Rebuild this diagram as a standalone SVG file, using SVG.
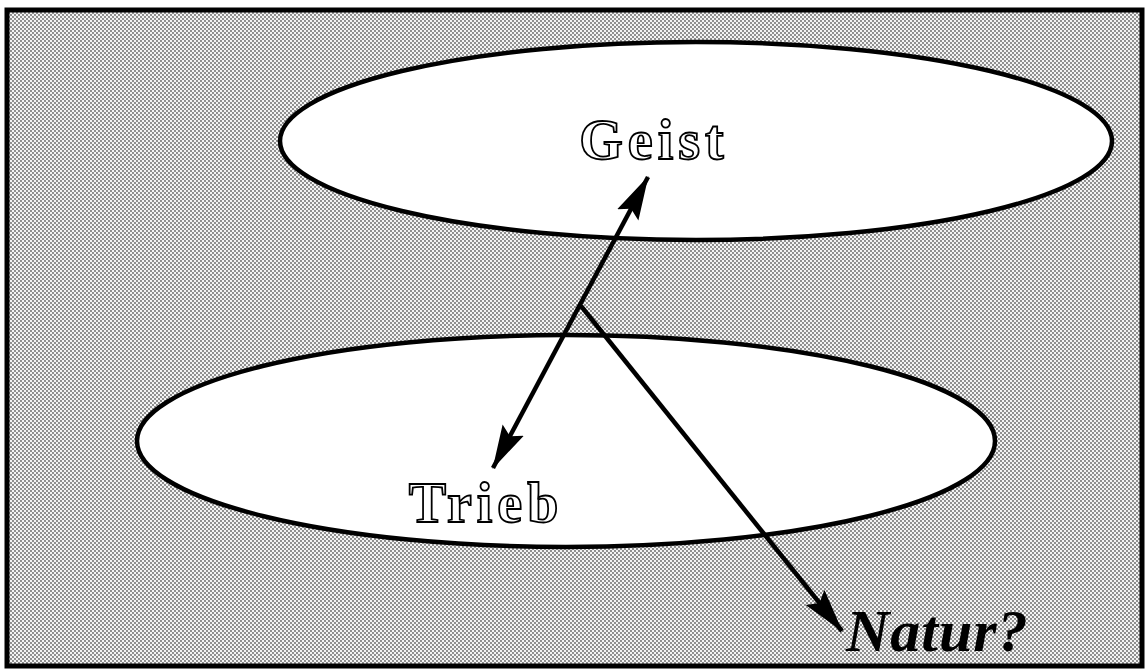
<svg xmlns="http://www.w3.org/2000/svg" width="1146" height="670" viewBox="0 0 1146 670">
<defs>
<pattern id="ht" width="4" height="4" patternUnits="userSpaceOnUse">
<rect width="4" height="4" fill="#f4f4f4"/>
<circle cx="1" cy="1" r="0.9" fill="#606060"/>
<circle cx="3" cy="3" r="0.9" fill="#606060"/>
</pattern>
<marker id="ah" viewBox="0 0 44 26" refX="43" refY="13" markerWidth="44" markerHeight="26" markerUnits="userSpaceOnUse" orient="auto-start-reverse">
<path d="M0,1 L44,13 L0,25 L7,13 Z" fill="#000"/>
</marker>
<style>
.ell{fill:#fff;stroke:#000;stroke-width:4.5}
.lbl{font-family:"Liberation Serif",serif;font-weight:bold;fill:#fff;stroke:#000;stroke-width:1.8}
.con{stroke:#000;stroke-width:4.5;fill:none}
</style>
</defs>
<rect x="0" y="0" width="1146" height="670" fill="#fff"/>
<rect x="7" y="10" width="1135" height="656" fill="url(#ht)" stroke="#000" stroke-width="5"/>
<g id="geist">
<ellipse class="ell" cx="696" cy="141" rx="416" ry="99"/>
<text class="lbl" x="654" y="159" font-size="56" letter-spacing="5" text-anchor="middle">Geist</text>
</g>
<g id="trieb">
<ellipse class="ell" cx="566" cy="441" rx="429" ry="106"/>
<text class="lbl" x="486" y="522" font-size="56" letter-spacing="5" text-anchor="middle">Trieb</text>
</g>
<g id="natur">
<text x="846" y="651" font-family="Liberation Serif,serif" font-style="italic" font-weight="bold" font-size="60" letter-spacing="1" fill="#000">Natur?</text>
</g>
<g id="connectors">
<line class="con" x1="493" y1="468" x2="648" y2="177" marker-start="url(#ah)" marker-end="url(#ah)"/>
<line class="con" x1="581" y1="306" x2="842" y2="631" marker-end="url(#ah)"/>
</g>
</svg>
